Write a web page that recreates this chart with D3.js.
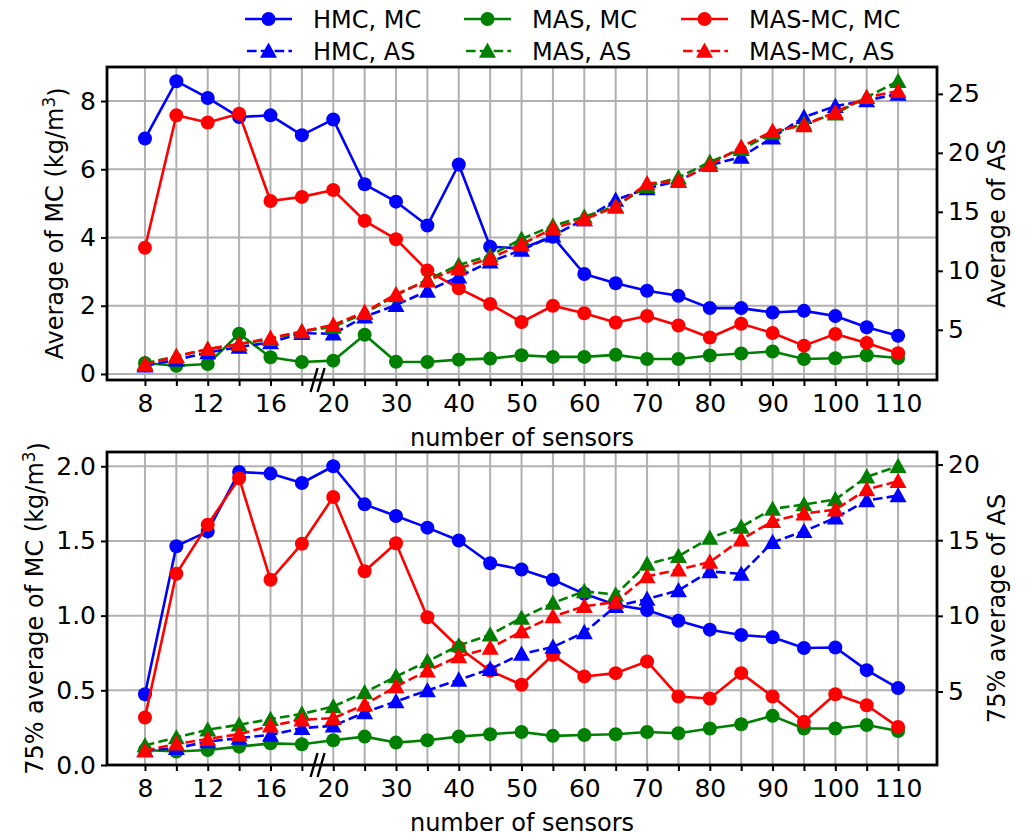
<!DOCTYPE html>
<html>
<head>
<meta charset="utf-8">
<script src="https://cdn.jsdelivr.net/npm/d3@7"></script>
<style>
  html, body { margin: 0; padding: 0; background: #fff; }
  svg { display: block; font-family: "DejaVu Sans", sans-serif; }
</style>
</head>
<body>
<svg id="chart" width="1025" height="836"></svg>
<script>
// Sensor counts along the x axis (evenly spaced categories)
const sensorCounts = ["8","10","12","14","16","18","20","25","30","35","40","45","50","55","60","65","70","75","80","85","90","95","100","105","110"];

// Upper panel: average MC (left axis) and average AS (right axis)
const hmcMC   = [6.90, 8.58, 8.09, 7.53, 7.58, 7.00, 7.46, 5.56, 5.05, 4.35, 6.14, 3.73, 3.68, 4.02, 2.93, 2.66, 2.44, 2.29, 1.93, 1.93, 1.80, 1.85, 1.70, 1.37, 1.12];
const masMC   = [0.32, 0.24, 0.29, 1.18, 0.49, 0.35, 0.39, 1.15, 0.36, 0.35, 0.42, 0.45, 0.55, 0.50, 0.50, 0.56, 0.44, 0.44, 0.54, 0.60, 0.66, 0.44, 0.46, 0.55, 0.47];
const masmcMC = [3.70, 7.58, 7.37, 7.63, 5.07, 5.19, 5.39, 4.49, 3.95, 3.03, 2.51, 2.05, 1.52, 2.00, 1.78, 1.51, 1.70, 1.42, 1.07, 1.47, 1.20, 0.83, 1.17, 0.91, 0.61];
const hmcAS   = [1.95, 2.46, 3.08, 3.54, 3.93, 4.72, 4.66, 6.12, 7.09, 8.30, 9.50, 10.77, 11.76, 12.97, 14.36, 16.00, 16.98, 17.62, 18.95, 19.65, 21.29, 23.03, 23.96, 24.44, 25.00];
const masAS   = [2.15, 2.75, 3.35, 3.80, 4.20, 4.86, 5.25, 6.40, 7.92, 9.25, 10.50, 11.30, 12.69, 13.82, 14.58, 15.48, 17.17, 17.90, 19.23, 20.30, 21.68, 22.47, 23.32, 24.72, 26.07];
const masmcAS = [2.05, 2.75, 3.37, 3.79, 4.30, 4.86, 5.42, 6.50, 8.02, 9.17, 10.20, 11.06, 12.24, 13.60, 14.36, 15.42, 17.40, 17.62, 18.95, 20.50, 21.85, 22.33, 23.45, 24.72, 25.23];

// Lower panel: 75% average MC (left axis) and 75% average AS (right axis)
const hmcMC75   = [0.474, 1.465, 1.564, 1.962, 1.951, 1.888, 2.000, 1.745, 1.667, 1.589, 1.503, 1.351, 1.309, 1.240, 1.146, 1.072, 1.038, 0.966, 0.906, 0.870, 0.855, 0.783, 0.787, 0.635, 0.515];
const masMC75   = [0.100, 0.090, 0.100, 0.123, 0.145, 0.139, 0.166, 0.190, 0.150, 0.166, 0.190, 0.206, 0.221, 0.195, 0.201, 0.206, 0.221, 0.213, 0.244, 0.273, 0.329, 0.244, 0.244, 0.268, 0.228];
const masmcMC75 = [0.318, 1.280, 1.609, 1.920, 1.240, 1.481, 1.794, 1.297, 1.485, 0.989, 0.787, 0.631, 0.537, 0.736, 0.593, 0.615, 0.693, 0.459, 0.445, 0.615, 0.459, 0.289, 0.474, 0.400, 0.255];
const hmcAS75   = [1.12, 1.25, 1.69, 1.92, 2.13, 2.58, 2.73, 3.61, 4.34, 5.07, 5.77, 6.48, 7.48, 7.94, 8.91, 10.63, 11.11, 11.68, 12.94, 12.77, 14.86, 15.59, 16.48, 17.62, 17.95];
const masAS75   = [1.43, 1.96, 2.47, 2.80, 3.17, 3.52, 4.01, 4.93, 5.99, 6.99, 8.04, 8.75, 9.86, 10.85, 11.62, 11.40, 13.43, 13.94, 15.15, 15.88, 17.07, 17.36, 17.69, 19.19, 19.89];
const masmcAS75 = [1.08, 1.54, 1.85, 2.18, 2.73, 3.13, 3.24, 4.12, 5.33, 6.37, 7.32, 7.87, 8.97, 9.96, 10.63, 10.92, 12.61, 13.05, 13.56, 15.04, 16.25, 16.76, 17.02, 18.35, 18.90];

// Tick values
const leftTicksTop = [0, 2, 4, 6, 8];
const rightTicksTop = [5, 10, 15, 20, 25];
const leftTicksBottom = [0, 0.5, 1.0, 1.5, 2.0];
const rightTicksBottom = [5, 10, 15, 20];

// Legend entries
const legendNames = [["HMC, MC", "MAS, MC", "MAS-MC, MC"], ["HMC, AS", "MAS, AS", "MAS-MC, AS"]];
const seriesColors = ["#0000ff", "#008000", "#ff0000"];

const svg = d3.select("#chart");
const FONT_TICK = 25, FONT_LABEL = 24, FONT_LEGEND = 24;
const LW = 2.6, R = 7, TRI = 8.5;

const x = d3.scaleLinear().domain([-1.21, 25.24]).range([107, 937]);

// 5% margin autoscale like a default plotting library
function pad(vals, lockZero) {
  const lo = d3.min(vals), hi = d3.max(vals), m = (hi - lo) * 0.05;
  return [lockZero ? 0 : lo - m, hi + m];
}

const panels = [
  { top: 67, bottom: 380, mc: [hmcMC, masMC, masmcMC], as: [hmcAS, masAS, masmcAS],
    leftTicks: leftTicksTop, rightTicks: rightTicksTop, leftFmt: d3.format("d"),
    lockZero: false, leftLabel: "Average of MC (kg/m", rightLabel: "Average of AS", leftLabelX: 63 },
  { top: 452, bottom: 765, mc: [hmcMC75, masMC75, masmcMC75], as: [hmcAS75, masAS75, masmcAS75],
    leftTicks: leftTicksBottom, rightTicks: rightTicksBottom, leftFmt: d3.format(".1f"),
    lockZero: true, leftLabel: "75% average of MC (kg/m", rightLabel: "75% average of AS", leftLabelX: 43 }
];

const triPath = `M0,${-TRI} L${TRI},${TRI * 0.8} L${-TRI},${TRI * 0.8} Z`;

panels.forEach(p => {
  const yL = d3.scaleLinear().domain(pad(p.mc.flat(), p.lockZero)).range([p.bottom, p.top]);
  const yR = d3.scaleLinear().domain(pad(p.as.flat(), false)).range([p.bottom, p.top]);
  const g = svg.append("g");

  // grid
  g.append("g").selectAll("line").data(d3.range(sensorCounts.length)).join("line")
    .attr("x1", d => x(d)).attr("x2", d => x(d)).attr("y1", p.top).attr("y2", p.bottom)
    .attr("stroke", "#b0b0b0").attr("stroke-width", 2);
  g.append("g").selectAll("line").data(p.leftTicks).join("line")
    .attr("x1", 107).attr("x2", 937).attr("y1", d => yL(d)).attr("y2", d => yL(d))
    .attr("stroke", "#b0b0b0").attr("stroke-width", 2);

  // MC series: solid lines with circles
  p.mc.forEach((vals, k) => {
    const line = d3.line().x((d, i) => x(i)).y(d => yL(d));
    g.append("path").attr("d", line(vals)).attr("fill", "none")
      .attr("stroke", seriesColors[k]).attr("stroke-width", LW).attr("stroke-linejoin", "round");
    g.append("g").selectAll("circle").data(vals).join("circle")
      .attr("cx", (d, i) => x(i)).attr("cy", d => yL(d)).attr("r", R).attr("fill", seriesColors[k]);
  });
  // AS series: dashed lines with triangles (secondary axis, drawn on top)
  p.as.forEach((vals, k) => {
    const line = d3.line().x((d, i) => x(i)).y(d => yR(d));
    g.append("path").attr("d", line(vals)).attr("fill", "none")
      .attr("stroke", seriesColors[k]).attr("stroke-width", LW).attr("stroke-dasharray", "9.6,4.2");
    g.append("g").selectAll("path").data(vals).join("path")
      .attr("d", triPath).attr("transform", (d, i) => `translate(${x(i)},${yR(d)})`)
      .attr("fill", seriesColors[k]);
  });

  // axes
  const styleAxis = sel => {
    sel.select(".domain").remove();
    sel.selectAll(".tick line").attr("stroke", "#000").attr("stroke-width", 2);
    sel.selectAll(".tick text").attr("fill", "#000").attr("font-size", FONT_TICK)
      .attr("font-family", "DejaVu Sans");
  };
  g.append("g").attr("transform", `translate(107,0)`)
    .call(d3.axisLeft(yL).tickValues(p.leftTicks).tickFormat(p.leftFmt).tickSize(6).tickPadding(5))
    .call(styleAxis);
  g.append("g").attr("transform", `translate(937,0)`)
    .call(d3.axisRight(yR).tickValues(p.rightTicks).tickFormat(d3.format("d")).tickSize(6).tickPadding(5))
    .call(styleAxis);
  g.append("g").attr("transform", `translate(0,${p.bottom})`)
    .call(d3.axisBottom(x).tickValues(d3.range(sensorCounts.length))
      .tickFormat(i => i % 2 === 0 ? sensorCounts[i] : "").tickSize(6).tickPadding(8))
    .call(styleAxis);

  // frame
  g.append("rect").attr("x", 107).attr("y", p.top).attr("width", 830).attr("height", p.bottom - p.top)
    .attr("fill", "none").attr("stroke", "#000").attr("stroke-width", 2.8);

  // axis break marks between 18 and 20
  const bx = x(5.5);
  [-3.5, 3.5].forEach(off => {
    g.append("line").attr("x1", bx + off - 3.5).attr("y1", p.bottom + 12)
      .attr("x2", bx + off + 3.5).attr("y2", p.bottom - 12)
      .attr("stroke", "#000").attr("stroke-width", 2.4);
  });

  // labels
  g.append("text").attr("x", 522).attr("y", p.bottom + 66).attr("text-anchor", "middle")
    .attr("font-size", FONT_LABEL).text("number of sensors");
  const cy = (p.top + p.bottom) / 2;
  const ll = g.append("text").attr("transform", `translate(${p.leftLabelX},${cy}) rotate(-90)`)
    .attr("text-anchor", "middle").attr("font-size", FONT_LABEL);
  ll.append("tspan").text(p.leftLabel);
  ll.append("tspan").attr("dy", "-0.45em").attr("font-size", FONT_LABEL * 0.7).text("3");
  ll.append("tspan").attr("dy", "0.45em").text(")");
  g.append("text").attr("transform", `translate(1005,${cy}) rotate(-90)`)
    .attr("text-anchor", "middle").attr("font-size", FONT_LABEL).text(p.rightLabel);
});

// legend
const colX = [245, 464, 681], rowY = [19, 51], handleLen = 47;
legendNames.forEach((row, r) => {
  row.forEach((name, c) => {
    const lg = svg.append("g").attr("transform", `translate(${colX[c]},${rowY[r]})`);
    const ln = lg.append("line").attr("x1", 0).attr("x2", handleLen).attr("y1", 0).attr("y2", 0)
      .attr("stroke", seriesColors[c]).attr("stroke-width", LW);
    if (r === 1) {
      ln.attr("stroke-dasharray", "9.6,4.2").attr("stroke-dashoffset", -2);
      lg.append("path").attr("d", triPath).attr("transform", `translate(${handleLen / 2},0)`)
        .attr("fill", seriesColors[c]);
    } else {
      lg.append("circle").attr("cx", handleLen / 2).attr("cy", 0).attr("r", R).attr("fill", seriesColors[c]);
    }
    lg.append("text").attr("x", handleLen + 21).attr("y", 0).attr("dy", "0.36em")
      .attr("font-size", FONT_LEGEND).text(name);
  });
});
</script>
</body>
</html>
